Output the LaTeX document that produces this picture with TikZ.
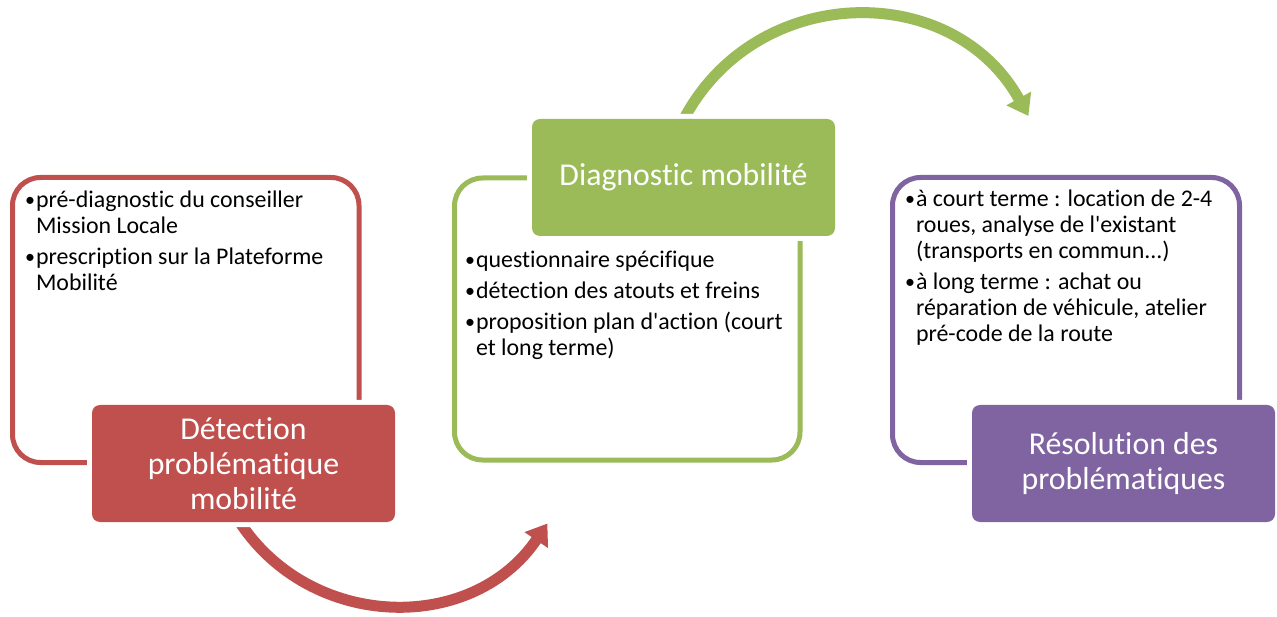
\documentclass[tikz,border=0pt]{standalone}
\usepackage{fontspec}
\setmainfont{Carlito}[Ligatures={TeXOff,NoCommon}]
\usetikzlibrary{arrows.meta}
\definecolor{cred}{HTML}{C0504D}
\definecolor{cgreen}{HTML}{9BBB59}
\definecolor{cpurple}{HTML}{8064A2}
\newcommand{\bulletmark}{\makebox[11pt][l]{\raisebox{1pt}{\fontsize{20}{20}\selectfont •}}}
\begin{document}
\begin{tikzpicture}[x=1pt,y=-1pt,
  frame/.style={draw=#1,line width=5pt,rounded corners=28pt,inner sep=0pt,outer sep=0pt},
  titlebox/.style={fill=#1,rounded corners=8pt,minimum width=303pt,minimum height=117pt,
    inner sep=0pt,outer sep=0pt,text=white,align=center,
    font=\fontsize{31.8}{35}\selectfont,preaction={draw=white,line width=10pt}},
  body/.style={anchor=base west,inner sep=0pt,outer sep=0pt,font=\fontsize{23.9}{26}\selectfont},
  bigarrow/.style={draw=#1,line width=11pt,-{Triangle[width=27pt,length=20pt]}}]
\useasboundingbox[fill=white] (0,0) rectangle (1277,617);

% outline frames
\node[frame=cred,minimum width=346.5pt,minimum height=285pt] (rframe) at (185.75,320) {};
\node[frame=cgreen,minimum width=345.5pt,minimum height=282pt] (gframe) at (627.25,319) {};
\node[frame=cpurple,minimum width=347pt,minimum height=285pt] (pframe) at (1066,320) {};

% curved arrows
\coordinate (ra0) at (233.8,512.5);
\coordinate (ra1) at (547.4,523.5);
\draw[bigarrow=cred] (ra0) .. controls (302.2,630.9) and (471.0,636.8) .. (ra1);
\coordinate (ga0) at (680.8,125.1);
\coordinate (ga1) at (1028.4,116);
\draw[bigarrow=cgreen] (ga0) .. controls (750.3,-17.5) and (951.5,-22.8) .. (ga1);

% title boxes
\node[titlebox=cred] (rbox) at (243.5,463.5) {Détection\\problématique\\mobilité};
\node[titlebox=cgreen] (gbox) at (683.5,177.5) {Diagnostic mobilité};
\node[titlebox=cpurple] (pbox) at (1123.5,463.5) {Résolution des\\problématiques};

% body texts
\node[body] (r1) at (25,208) {\bulletmark pré-diagnostic du conseiller};
\node[body] (r2) at (36,234) {Mission Locale};
\node[body] (r3) at (25,265) {\bulletmark prescription sur la Plateforme};
\node[body] (r4) at (36,291) {Mobilité};

\node[body] (g1) at (465,268) {\bulletmark questionnaire spécifique};
\node[body] (g2) at (465,299) {\bulletmark détection des atouts et freins};
\node[body] (g3) at (465,330) {\bulletmark proposition plan d'action (court};
\node[body] (g4) at (476,356) {et long terme)};

\node[body] (p1) at (905,207) {\bulletmark à court terme : location de 2-4};
\node[body] (p2) at (916,233) {roues, analyse de l'existant};
\node[body] (p3) at (916,259) {(transports en commun...)};
\node[body] (p4) at (905,290) {\bulletmark à long terme : achat ou};
\node[body] (p5) at (916,316) {réparation de véhicule, atelier};
\node[body] (p6) at (916,342) {pré-code de la route};
\end{tikzpicture}
\end{document}
